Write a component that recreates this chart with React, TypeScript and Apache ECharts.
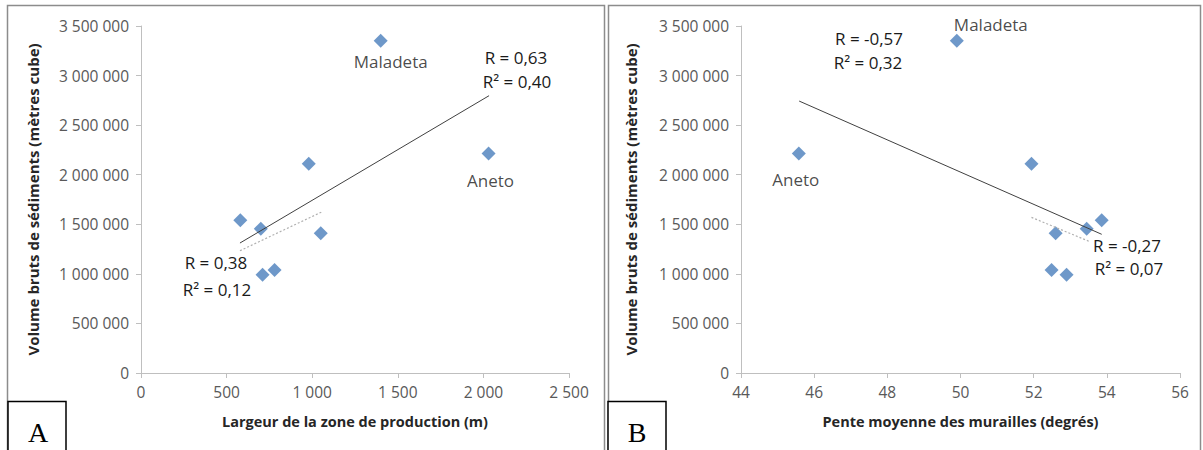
import React, { useEffect, useRef } from "react";
import * as echarts from "echarts";

const volumes = [3350000, 2215000, 2110000, 1540000, 1455000, 1410000, 990000, 1040000];
const glacierNames = ["Maladeta", "Aneto", "", "", "", "", "", ""];
const largeur = [1400, 2030, 980, 580, 700, 1050, 710, 780];
const pente = [49.9, 45.58, 51.94, 53.86, 53.45, 52.6, 52.9, 52.49];

const trendAllA_x = [578, 2033];
const trendAllA_y = [1311000, 2797000];
const trendSubA_x = [578, 1059];
const trendSubA_y = [1233000, 1627000];
const trendAllB_x = [45.59, 53.86];
const trendAllB_y = [2743000, 1399000];
const trendSubB_x = [51.94, 53.54];
const trendSubB_y = [1570000, 1324000];

const yTitle = "Volume bruts de sédiments (mètres cube)";
const xTitleA = "Largeur de la zone de production (m)";
const xTitleB = "Pente moyenne des murailles (degrés)";

const FONT = "'Open Sans', sans-serif";
const fmt = (v: number) => String(v).replace(/\B(?=(\d{3})+(?!\d))/g, " ");

const pairs = (xs: number[], ys: number[]) => xs.map((x, i) => [x, ys[i]]);

export default function App() {
  const ref = useRef<HTMLDivElement>(null);
  useEffect(() => {
    document.body.style.margin = "0";
    const chart = echarts.init(ref.current!, null, { renderer: "svg" });
    const axisCommon = {
      axisLine: { show: true, lineStyle: { color: "#bfbfbf", width: 1 } },
      axisTick: { show: true, length: 5, lineStyle: { color: "#bfbfbf" } },
      splitLine: { show: false },
      axisLabel: { color: "#595959", fontFamily: FONT, fontSize: 15.5 },
      nameTextStyle: { color: "#262626", fontFamily: FONT, fontSize: 14.5, fontWeight: "bold" as const },
    };
    const yAxis = (gi: number, gap: number) => ({
      ...axisCommon,
      type: "value" as const,
      gridIndex: gi,
      min: 0,
      max: 3500000,
      interval: 500000,
      name: yTitle,
      nameLocation: "middle" as const,
      nameGap: gap,
      nameTextStyle: { ...axisCommon.nameTextStyle, fontSize: 15 },
      axisLabel: { ...axisCommon.axisLabel, margin: 12, formatter: (v: number) => fmt(v) },
    });
    const scatterData = (xs: number[], offs: Record<string, [number, number]>) =>
      xs.map((x, i) => {
        const n = glacierNames[i];
        const item: any = { value: [x, volumes[i]], name: n };
        if (n) {
          item.label = {
            show: true,
            formatter: n,
            position: "inside",
            offset: offs[n],
            color: "#1a1a1a",
            fontFamily: FONT,
            fontSize: 17,
          };
        }
        return item;
      });
    const textEl = (t: string, x: number, y: number) => ({
      type: "text",
      x,
      y,
      style: {
        text: t,
        fill: "#1a1a1a",
        font: `17px ${FONT}`,
        textAlign: "center",
        textVerticalAlign: "middle",
      },
      z: 100,
    });
    chart.setOption({
      animation: false,
      grid: [
        { left: 141, right: 634, top: 26, bottom: 77 },
        { left: 741, right: 23, top: 26, bottom: 77 },
      ],
      xAxis: [
        {
          ...axisCommon,
          type: "value",
          gridIndex: 0,
          min: 0,
          max: 2500,
          interval: 500,
          name: xTitleA,
          nameLocation: "middle",
          nameGap: 41,
          axisLabel: { ...axisCommon.axisLabel, margin: 11, formatter: (v: number) => fmt(v) },
        },
        {
          ...axisCommon,
          type: "value",
          gridIndex: 1,
          min: 44,
          max: 56,
          interval: 2,
          name: xTitleB,
          nameLocation: "middle",
          nameGap: 41,
          axisLabel: { ...axisCommon.axisLabel, margin: 11 },
        },
      ],
      yAxis: [yAxis(0, 101), yAxis(1, 103)],
      series: [
        {
          type: "scatter",
          xAxisIndex: 0,
          yAxisIndex: 0,
          symbol: "diamond",
          symbolSize: 14,
          itemStyle: { color: "#4a7ebb" },
          data: scatterData(largeur, { Maladeta: [10, 21], Aneto: [2, 27] }),
          z: 2,
        },
        {
          type: "scatter",
          xAxisIndex: 1,
          yAxisIndex: 1,
          symbol: "diamond",
          symbolSize: 14,
          itemStyle: { color: "#4a7ebb" },
          data: scatterData(pente, { Maladeta: [34, -16], Aneto: [-3, 26] }),
          z: 2,
        },
        {
          type: "line",
          xAxisIndex: 0,
          yAxisIndex: 0,
          data: pairs(trendAllA_x, trendAllA_y),
          symbol: "none",
          lineStyle: { color: "#404040", width: 1 },
          z: 3,
        },
        {
          type: "line",
          xAxisIndex: 0,
          yAxisIndex: 0,
          data: pairs(trendSubA_x, trendSubA_y),
          symbol: "none",
          lineStyle: { color: "#b0b0b0", width: 1.2, type: [2, 2] },
          z: 3,
        },
        {
          type: "line",
          xAxisIndex: 1,
          yAxisIndex: 1,
          data: pairs(trendAllB_x, trendAllB_y),
          symbol: "none",
          lineStyle: { color: "#404040", width: 1 },
          z: 3,
        },
        {
          type: "line",
          xAxisIndex: 1,
          yAxisIndex: 1,
          data: pairs(trendSubB_x, trendSubB_y),
          symbol: "none",
          lineStyle: { color: "#b0b0b0", width: 1.2, type: [2, 2] },
          z: 3,
        },
      ],
      graphic: [
        {
          type: "rect",
          shape: { x: 7.5, y: 5.5, width: 597, height: 460 },
          style: { fill: "none", stroke: "#8c8c8c", lineWidth: 1.5 },
          silent: true,
          z: 50,
        },
        {
          type: "rect",
          shape: { x: 608.5, y: 5.5, width: 592, height: 460 },
          style: { fill: "none", stroke: "#8c8c8c", lineWidth: 1.5 },
          silent: true,
          z: 50,
        },
        {
          type: "rect",
          shape: { x: 8, y: 401.5, width: 58, height: 60 },
          style: { fill: "#fff", stroke: "#000", lineWidth: 1.5 },
          z: 60,
        },
        {
          type: "rect",
          shape: { x: 608, y: 401.5, width: 58, height: 60 },
          style: { fill: "#fff", stroke: "#000", lineWidth: 1.5 },
          z: 60,
        },
        {
          type: "text",
          x: 38,
          y: 432,
          style: { text: "A", fill: "#000", font: "28px 'Liberation Serif', serif", textAlign: "center", textVerticalAlign: "middle" },
          z: 61,
        },
        {
          type: "text",
          x: 637,
          y: 432,
          style: { text: "B", fill: "#000", font: "28px 'Liberation Serif', serif", textAlign: "center", textVerticalAlign: "middle" },
          z: 61,
        },
        textEl("R = 0,63", 516, 57),
        textEl("R² = 0,40", 517, 81),
        textEl("R = 0,38", 216, 262),
        textEl("R² = 0,12", 217, 289),
        textEl("R = -0,57", 869, 38),
        textEl("R² = 0,32", 868, 62),
        textEl("R = -0,27", 1127, 245),
        textEl("R² = 0,07", 1129, 268),
      ],
    });
    return () => chart.dispose();
  }, []);
  return <div ref={ref} style={{ width: 1203, height: 450 }} />;
}
